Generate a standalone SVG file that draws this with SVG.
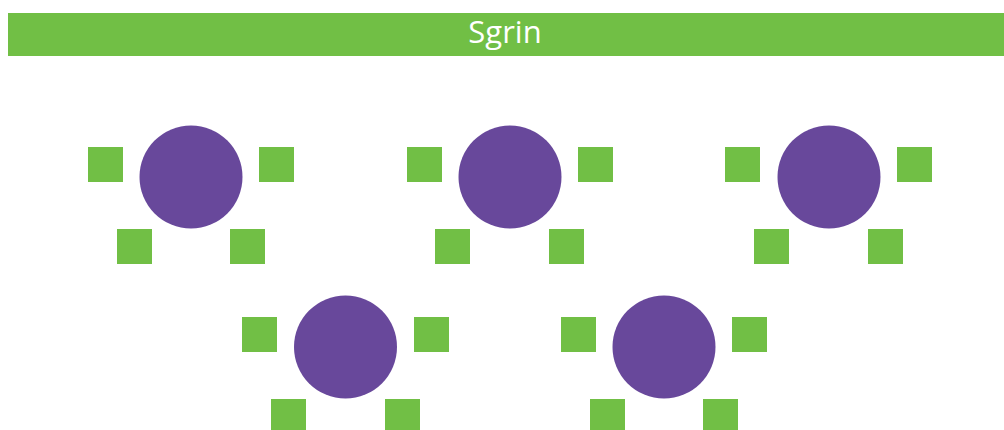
<svg xmlns="http://www.w3.org/2000/svg" width="1004" height="430" viewBox="0 0 1004 430">
  <style>
    .sq { fill: #71bf45; }
    .c { fill: #68489b; }
    .banner { fill: #71bf45; }
    .title { fill: #ffffff; font-family: "Open Sans", "Liberation Sans", sans-serif; font-size: 31px; }
  </style>
  <rect width="1004" height="430" fill="#ffffff"/>
  <g id="banner">
    <rect class="banner" x="8" y="13" width="996" height="43"/>
    <text class="title" x="505" y="43" text-anchor="middle">Sgrin</text>
  </g>
  <g id="table1">
    <circle class="c" cx="191" cy="177" r="51.5"/>
    <rect class="sq" x="88" y="147" width="35" height="35"/>
    <rect class="sq" x="259" y="147" width="35" height="35"/>
    <rect class="sq" x="117" y="229" width="35" height="35"/>
    <rect class="sq" x="230" y="229" width="35" height="35"/>
  </g>
  <g id="table2">
    <circle class="c" cx="510" cy="177" r="51.5"/>
    <rect class="sq" x="407" y="147" width="35" height="35"/>
    <rect class="sq" x="578" y="147" width="35" height="35"/>
    <rect class="sq" x="435" y="229" width="35" height="35"/>
    <rect class="sq" x="549" y="229" width="35" height="35"/>
  </g>
  <g id="table3">
    <circle class="c" cx="829" cy="177" r="51.5"/>
    <rect class="sq" x="725" y="147" width="35" height="35"/>
    <rect class="sq" x="897" y="147" width="35" height="35"/>
    <rect class="sq" x="754" y="229" width="35" height="35"/>
    <rect class="sq" x="868" y="229" width="35" height="35"/>
  </g>
  <g id="table4">
    <circle class="c" cx="345.5" cy="347" r="51.5"/>
    <rect class="sq" x="242" y="317" width="35" height="35"/>
    <rect class="sq" x="414" y="317" width="35" height="35"/>
    <rect class="sq" x="271" y="399" width="35" height="35"/>
    <rect class="sq" x="385" y="399" width="35" height="35"/>
  </g>
  <g id="table5">
    <circle class="c" cx="664" cy="347" r="51.5"/>
    <rect class="sq" x="561" y="317" width="35" height="35"/>
    <rect class="sq" x="732" y="317" width="35" height="35"/>
    <rect class="sq" x="590" y="399" width="35" height="35"/>
    <rect class="sq" x="703" y="399" width="35" height="35"/>
  </g>
  <g id="connectors"/>
</svg>
